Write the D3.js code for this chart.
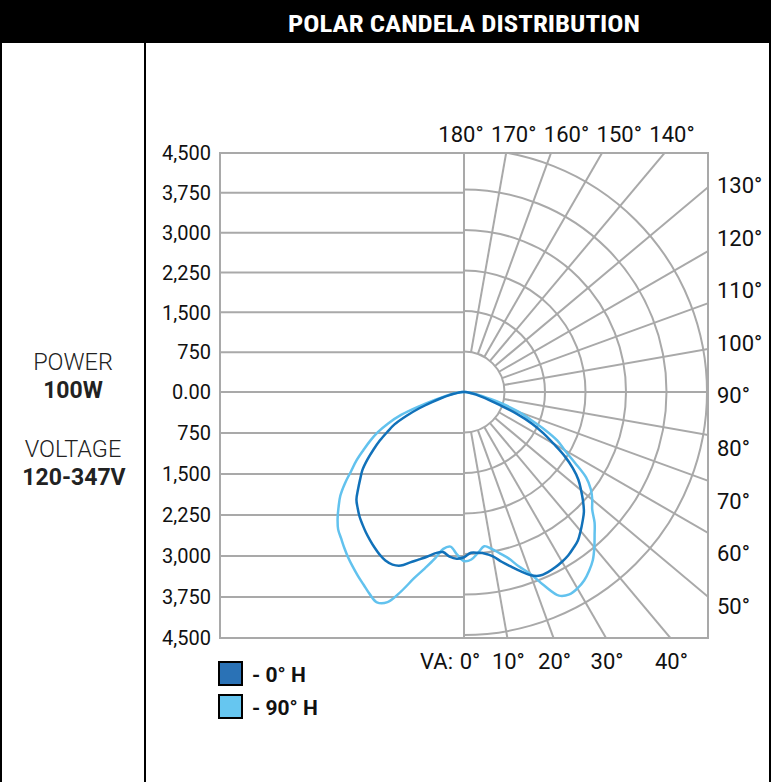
<!DOCTYPE html>
<html>
<head>
<meta charset="utf-8">
<script src="https://cdn.jsdelivr.net/npm/d3@7"></script>
<style>
body { margin: 0; background: #fff; }
svg text { font-family: Roboto, "Liberation Sans", sans-serif; }
</style>
</head>
<body>
<script>
// vertical angles (degrees from nadir) where candela values were read
var verticalAngles = [0, 2.5, 5, 7.5, 10, 12.5, 15, 17.5, 20, 22.5, 25, 27.5, 30, 32.5, 35, 37.5, 40, 42.5, 45,
    47.5, 50, 52.5, 55, 57.5, 60, 62.5, 65, 67.5, 70, 72.5, 75, 77.5, 80, 82.5, 85, 87.5, 90];

// 0° H plane, right half (front) and left half (back)
var h0Front = [3060, 2980, 2990, 3020, 3090, 3220, 3345, 3480, 3610, 3680, 3680, 3660, 3630, 3590, 3530, 3465, 3360, 3250, 3140,
    2990, 2830, 2670, 2460, 2210, 1915, 1660, 1390, 1060, 700, 480, 330, 230, 160, 100, 60, 25, 0];
var h0Back = [3060, 3090, 3060, 2990, 3030, 3120, 3210, 3307, 3420, 3460, 3445, 3390, 3320, 3245, 3170, 3090, 3010, 2915, 2817,
    2660, 2510, 2370, 2185, 1990, 1800, 1600, 1420, 1150, 880, 620, 430, 290, 190, 120, 70, 30, 0];

// 90° H plane
var h90Front = [3130, 3105, 2990, 2880, 2950, 3060, 3190, 3390, 3580, 3880, 4160, 4225, 4200, 4140, 4040, 3920, 3755, 3580, 3420,
    3220, 3100, 2960, 2760, 2430, 2150, 1950, 1650, 1330, 1080, 800, 520, 350, 230, 140, 80, 35, 0];
var h90Back = [3130, 3010, 2875, 2930, 3140, 3345, 3570, 3870, 4140, 4215, 4130, 4025, 3930, 3835, 3740, 3640, 3540, 3450, 3310,
    3150, 2990, 2780, 2550, 2360, 2150, 1960, 1760, 1520, 1240, 850, 560, 370, 240, 150, 85, 35, 0];

// axes
var yTickValues = [4500, 3750, 3000, 2250, 1500, 750, 0, -750, -1500, -2250, -3000, -3750, -4500];
var yTickLabels = ["4,500", "3,750", "3,000", "2,250", "1,500", "750", "0.00", "750", "1,500", "2,250", "3,000", "3,750", "4,500"];
var ringValues = [750, 1500, 2250, 3000, 3750, 4500];
var spokeAngles = [10, 20, 30, 40, 50, 60, 70, 80, 100, 110, 120, 130, 140, 150, 160, 170];
var topLabels = ["180°", "170°", "160°", "150°", "140°"];
var rightLabels = ["130°", "120°", "110°", "100°", "90°", "80°", "70°", "60°", "50°"];
var bottomAngles = [0, 10, 20, 30, 40];
var legendLabels = ["- 0° H", "- 90° H"];

var width = 771,
    height = 782;

var box = {left: 220, right: 708, top: 153, bottom: 638},
    cx = 464,
    cy = 392;

var gridColor = "#a9a9a9",
    darkBlue = "#1171b9",
    lightBlue = "#62c2ee";

var svg = d3.select("body")
    .append("svg")
    .attr("width", width)
    .attr("height", height);

//header bar
svg.append("rect")
    .attr("x", 0).attr("y", 0)
    .attr("width", width).attr("height", 43)
    .attr("fill", "#000");

svg.append("text")
    .attr("x", 464).attr("y", 32)
    .attr("text-anchor", "middle")
    .attr("fill", "#fff")
    .style("font-family", "'Roboto Condensed', 'Liberation Sans Narrow', Roboto, sans-serif")
    .style("font-weight", "bold")
    .style("font-size", "24px")
    .attr("textLength", 352)
    .attr("lengthAdjust", "spacingAndGlyphs")
    .text("POLAR CANDELA DISTRIBUTION");

//table borders
svg.append("g")
    .attr("stroke", "#000")
    .attr("stroke-width", 2)
    .selectAll("line")
    .data([[1, 43, 1, height], [770, 43, 770, height], [145, 43, 145, height]])
    .enter()
    .append("line")
    .attr("x1", function(d){ return d[0]; })
    .attr("y1", function(d){ return d[1]; })
    .attr("x2", function(d){ return d[2]; })
    .attr("y2", function(d){ return d[3]; });

//left panel
var info = svg.append("g")
    .attr("text-anchor", "middle")
    .attr("fill", "#222");
info.append("text").attr("x", 73).attr("y", 370)
    .style("font-size", "23.5px").style("font-weight", 300).text("POWER");
info.append("text").attr("x", 73).attr("y", 398)
    .style("font-size", "23px").style("font-weight", "bold").text("100W");
info.append("text").attr("x", 73).attr("y", 457)
    .style("font-size", "23.5px").style("font-weight", 300).text("VOLTAGE");
info.append("text").attr("x", 74).attr("y", 485)
    .style("font-size", "23px").style("font-weight", "bold").text("120-347V");

//scales
var y = d3.scaleLinear()
    .domain([4500, 0, -4500])
    .range([box.top, cy, box.bottom]);

var r = d3.scaleLinear()
    .domain([0, 4500])
    .range([0, 243]);

var rad = function(deg){ return deg * Math.PI / 180; };

svg.append("clipPath")
    .attr("id", "boxClip")
    .append("rect")
    .attr("x", box.left).attr("y", box.top)
    .attr("width", box.right - box.left)
    .attr("height", box.bottom - box.top);

var grid = svg.append("g")
    .attr("stroke", gridColor)
    .attr("stroke-width", 2)
    .attr("fill", "none");

//horizontal lines on the left half
grid.selectAll(".hLine")
    .data(yTickValues)
    .enter()
    .append("line")
    .attr("class", "hLine")
    .attr("x1", box.left).attr("x2", cx)
    .attr("y1", function(d){ return y(d); })
    .attr("y2", function(d){ return y(d); });

grid.append("line")
    .attr("x1", cx).attr("x2", box.right)
    .attr("y1", y(0)).attr("y2", y(0));

grid.append("line")
    .attr("x1", cx).attr("x2", cx)
    .attr("y1", box.top).attr("y2", box.bottom);

var clipped = grid.append("g").attr("clip-path", "url(#boxClip)");

//rings on the right half
clipped.selectAll(".ring")
    .data(ringValues)
    .enter()
    .append("path")
    .attr("class", "ring")
    .attr("d", function(d){
        var p = d3.path();
        p.arc(cx, cy, r(d), -Math.PI / 2, Math.PI / 2);
        return p.toString();
    });

//spokes from the inner ring out to the frame
clipped.selectAll(".spoke")
    .data(spokeAngles)
    .enter()
    .append("line")
    .attr("class", "spoke")
    .attr("x1", function(d){ return cx + r(750) * Math.sin(rad(d)); })
    .attr("y1", function(d){ return cy + r(750) * Math.cos(rad(d)); })
    .attr("x2", function(d){ return cx + 420 * Math.sin(rad(d)); })
    .attr("y2", function(d){ return cy + 420 * Math.cos(rad(d)); });

grid.append("rect")
    .attr("x", box.left).attr("y", box.top)
    .attr("width", box.right - box.left)
    .attr("height", box.bottom - box.top);

//labels
var labels = svg.append("g")
    .attr("fill", "#111");

labels.selectAll(".yLabel")
    .data(yTickValues)
    .enter()
    .append("text")
    .attr("class", "yLabel")
    .attr("x", 211)
    .attr("y", function(d){ return y(d); })
    .attr("dy", "0.36em")
    .attr("text-anchor", "end")
    .style("font-size", "20px")
    .text(function(d, i){ return yTickLabels[i]; });

var topX = d3.scalePoint().domain(topLabels).range([461, 672]);
labels.selectAll(".topLabel")
    .data(topLabels)
    .enter()
    .append("text")
    .attr("class", "topLabel")
    .attr("x", function(d){ return topX(d); })
    .attr("y", 142)
    .attr("text-anchor", "middle")
    .style("font-size", "22px")
    .text(function(d){ return d; });

var rightY = d3.scalePoint().domain(rightLabels).range([185, 606]);
labels.selectAll(".rightLabel")
    .data(rightLabels)
    .enter()
    .append("text")
    .attr("class", "rightLabel")
    .attr("x", 717)
    .attr("y", function(d){ return rightY(d); })
    .attr("dy", "0.36em")
    .style("font-size", "22px")
    .text(function(d){ return d; });

//bottom labels sit where the spokes meet the frame
labels.selectAll(".bottomLabel")
    .data(bottomAngles)
    .enter()
    .append("text")
    .attr("class", "bottomLabel")
    .attr("x", function(d){ return cx + (d == 0 ? 6 : 1) + (box.bottom - cy) * Math.tan(rad(d)); })
    .attr("y", 669)
    .attr("text-anchor", "middle")
    .style("font-size", "22px")
    .text(function(d){ return d + "°"; });

labels.append("text")
    .attr("x", 453).attr("y", 669)
    .attr("text-anchor", "end")
    .style("font-size", "22px")
    .text("VA:");

//candela curves
var toPoints = function(back, front){
    var pts = [];
    for (var i = verticalAngles.length - 1; i >= 0; i--){
        var a = rad(verticalAngles[i]);
        pts.push([cx - r(back[i]) * Math.sin(a), cy + r(back[i]) * Math.cos(a)]);
    }
    for (var j = 1; j < verticalAngles.length; j++){
        var b = rad(verticalAngles[j]);
        pts.push([cx + r(front[j]) * Math.sin(b), cy + r(front[j]) * Math.cos(b)]);
    }
    return pts;
};

var line = d3.line()
    .x(function(d){ return d[0]; })
    .y(function(d){ return d[1]; })
    .curve(d3.curveCatmullRom.alpha(0.5));

var series = [
    {name: "90° H", color: lightBlue, points: toPoints(h90Back, h90Front)},
    {name: "0° H", color: darkBlue, points: toPoints(h0Back, h0Front)}
];

svg.selectAll(".curve")
    .data(series)
    .enter()
    .append("path")
    .attr("class", "curve")
    .attr("d", function(d){ return line(d.points); })
    .attr("fill", "none")
    .attr("stroke", function(d){ return d.color; })
    .attr("stroke-width", 2.5)
    .attr("stroke-linejoin", "round");

//legend
var legend = svg.selectAll(".legend")
    .data(legendLabels)
    .enter()
    .append("g")
    .attr("class", "legend")
    .attr("transform", function(d, i){ return "translate(219," + (662 + i * 33) + ")"; });

legend.append("rect")
    .attr("width", 23).attr("height", 23)
    .attr("fill", function(d, i){ return i == 0 ? "#2a72b6" : "#66c6f0"; })
    .attr("stroke", "#000")
    .attr("stroke-width", 2);

legend.append("text")
    .attr("x", 33).attr("y", 20)
    .style("font-size", "21px")
    .style("font-weight", "bold")
    .attr("fill", "#111")
    .text(function(d){ return d; });
</script>
</body>
</html>
